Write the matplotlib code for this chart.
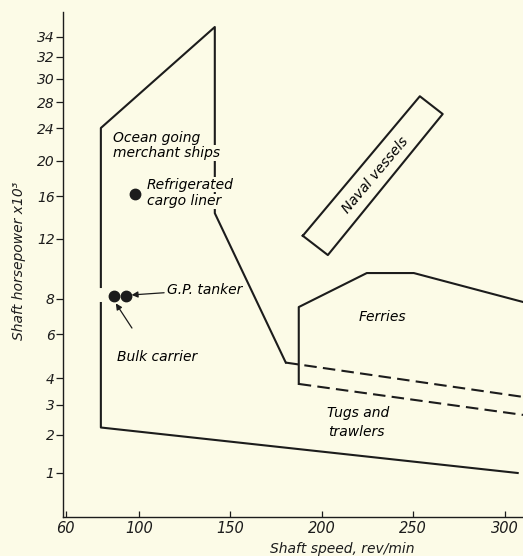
import matplotlib

matplotlib.use("Agg")
import matplotlib.pyplot as plt
import numpy as np

# y axis of the original is a hand-ruled, non-uniform scale:
# tick values and their height (px above the x axis)
Y_TICKS = [0, 1, 2, 3, 4, 6, 8, 12, 16, 20, 24, 28, 30, 32, 34, 37]
Y_HEIGHT = [0, 44, 82, 112, 139, 183, 218, 278, 321, 356, 389, 415, 438, 460, 480, 510]
Y_LABELED = [1, 2, 3, 4, 6, 8, 12, 16, 20, 24, 28, 30, 32, 34]
X_TICKS = [60, 100, 150, 200, 250, 300]

# region outlines (shaft speed rev/min, shaft hp x 10^3)
OCEAN_UPPER_X = [79.2, 79.2, 141.5, 141.5, 180.3]
OCEAN_UPPER_Y = [8.8, 24.0, 35.0, 14.4, 4.7]
OCEAN_LOWER_X = [79.2, 79.2, 307.1]
OCEAN_LOWER_Y = [7.77, 2.25, 1.0]
OCEAN_DASH_X = [180.3, 310.0]
OCEAN_DASH_Y = [4.7, 3.3]
FERRY_X = [187.4, 187.4, 224.6, 250.3, 310.0]
FERRY_Y = [3.78, 7.54, 9.73, 9.73, 7.83]
FERRY_DASH_X = [187.4, 310.0]
FERRY_DASH_Y = [3.78, 2.67]
NAVAL_X = [189.6, 253.6, 266.1, 203.3, 189.6]
NAVAL_Y = [12.3, 28.5, 26.15, 10.93, 12.3]

# individual ships
SHIP_NAMES = ["Bulk carrier", "G.P. tanker", "Refrigerated cargo liner"]
SHIP_RPM = [86.3, 92.9, 97.8]
SHIP_HP = [8.2, 8.2, 16.2]

BG = "#fcfbe7"
INK = "#1c1c1c"


def fwd(v):
    return np.interp(v, Y_TICKS, Y_HEIGHT)


def inv(h):
    return np.interp(h, Y_HEIGHT, Y_TICKS)


plt.rcParams["font.family"] = "DejaVu Sans"
plt.rcParams["font.style"] = "oblique"

fig = plt.figure(figsize=(5.23, 5.56), dpi=100, facecolor=BG)
ax = fig.add_axes([63 / 523, 39 / 556, 460 / 523, 505 / 556], facecolor=BG)
ax.set_yscale("function", functions=(fwd, inv))
ax.set_xlim(58.5, 310)
ax.set_ylim(0, inv(505))

for s in ["top", "right"]:
    ax.spines[s].set_visible(False)
for s in ["left", "bottom"]:
    ax.spines[s].set_color(INK)
    ax.spines[s].set_linewidth(1.0)

ax.set_yticks(Y_LABELED)
ax.set_yticklabels([str(v) for v in Y_LABELED])
ax.yaxis.set_minor_locator(matplotlib.ticker.NullLocator())
ax.set_xticks(X_TICKS)
ax.tick_params(axis="y", direction="out", length=5, width=0.9, colors=INK,
               labelsize=10, pad=1)
ax.tick_params(axis="x", direction="in", length=4, width=0.9, colors=INK,
               labelsize=10.5, pad=3)

lw = 1.5
ax.plot(OCEAN_UPPER_X, OCEAN_UPPER_Y, color=INK, lw=lw, zorder=2)
ax.plot(OCEAN_LOWER_X, OCEAN_LOWER_Y, color=INK, lw=lw, zorder=2)
ax.plot(FERRY_X, FERRY_Y, color=INK, lw=lw, zorder=2)
ax.plot(NAVAL_X, NAVAL_Y, color=INK, lw=lw, zorder=2)
dash = (0, (6, 3))
ax.plot(OCEAN_DASH_X, OCEAN_DASH_Y, color=INK, lw=lw, ls=dash, zorder=2)
ax.plot(FERRY_DASH_X, FERRY_DASH_Y, color=INK, lw=lw, ls=dash, zorder=2)

ax.plot(SHIP_RPM, SHIP_HP, "o", color=INK, ms=7.5, zorder=3)

box = dict(facecolor=BG, edgecolor="none", pad=0.6)
fs = 10
ax.text(85.8, 22.8, "Ocean going", fontsize=fs, va="center", ha="left")
ax.text(85.8, 21.0, "merchant ships", fontsize=fs, va="center", ha="left",
        bbox=box, zorder=4)
ax.text(104.4, 17.3, "Refrigerated", fontsize=fs, va="center", ha="left",
        bbox=box, zorder=4)
ax.text(104.4, 15.5, "cargo liner", fontsize=fs, va="center", ha="left",
        bbox=box, zorder=4)

arrow = dict(arrowstyle="-|>", color=INK, lw=0.9, mutation_scale=9,
             shrinkA=0, shrinkB=0)
ax.annotate("G.P. tanker", xy=(96.0, 8.27), xytext=(115.3, 8.6),
            fontsize=fs, va="center", ha="left", arrowprops=arrow)
ax.annotate("Bulk carrier", xy=(87.4, 7.75), xytext=(88.0, 4.95),
            fontsize=fs, va="center", ha="left")
ax.annotate("", xy=(87.4, 7.75), xytext=(96.2, 6.34), arrowprops=arrow)

ax.text(229.5, 18.4, "Naval vessels", fontsize=fs, rotation=50,
        ha="center", va="center")
ax.text(233.3, 6.97, "Ferries", fontsize=fs, ha="center", va="center")
ax.text(219.7, 2.72, "Tugs and", fontsize=fs, ha="center", va="center")
ax.text(219.0, 2.1, "trawlers", fontsize=fs, ha="center", va="center")

fig.text(342 / 523, 1 - 549 / 556, "Shaft speed, rev/min", fontsize=10,
         ha="center", va="center", color=INK)
fig.text(19 / 523, 1 - 261 / 556, "Shaft horsepower x10³", fontsize=10,
         ha="center", va="center", rotation=90, color=INK)

fig.savefig("out.png", dpi=100, facecolor=BG)
